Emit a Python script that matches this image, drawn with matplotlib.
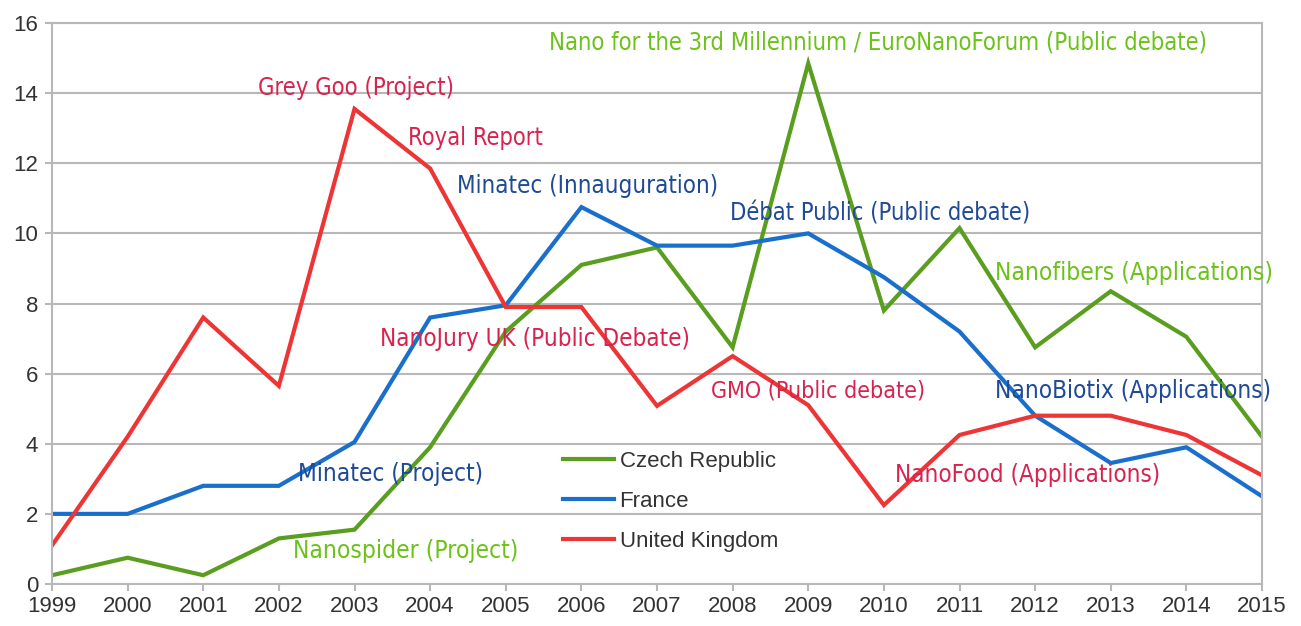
import matplotlib
matplotlib.use("Agg")
import matplotlib.pyplot as plt
from matplotlib import font_manager as fm

years = list(range(1999, 2016))
czech = [0.25, 0.75, 0.25, 1.3, 1.55, 3.9, 7.2, 9.1, 9.6, 6.75, 14.85, 7.8, 10.15, 6.75, 8.35, 7.05, 4.2]
france = [2.0, 2.0, 2.8, 2.8, 4.05, 7.6, 7.95, 10.75, 9.65, 9.65, 10.0, 8.75, 7.2, 4.8, 3.45, 3.9, 2.5]
uk = [1.1, 4.2, 7.6, 5.65, 13.55, 11.85, 7.9, 7.9, 5.08, 6.5, 5.1, 2.25, 4.25, 4.8, 4.8, 4.25, 3.1]
series_names = ["Czech Republic", "France", "United Kingdom"]
yticks = [0, 2, 4, 6, 8, 10, 12, 14, 16]

ann_texts = [
    "Grey Goo (Project)", "Royal Report", "Minatec (Innauguration)",
    "Nano for the 3rd Millennium / EuroNanoForum (Public debate)",
    "Débat Public (Public debate)", "Nanofibers (Applications)",
    "NanoJury UK (Public Debate)", "GMO (Public debate)",
    "NanoBiotix (Applications)", "Minatec (Project)",
    "NanoFood (Applications)", "Nanospider (Project)",
]
ann_x = [2001.72, 2003.71, 2004.36, 2005.57, 2007.97, 2011.47,
         2003.34, 2007.72, 2011.47, 2002.25, 2010.15, 2002.19]
ann_y = [14.15, 12.72, 11.35, 15.43, 10.58, 8.87,
         6.99, 5.5, 5.5, 3.14, 3.11, 0.94]
ann_series = ["uk", "uk", "fr", "cz", "fr", "cz", "uk", "uk", "fr", "fr", "uk", "cz"]
ann_width_px = [197, 135, 261, 663, 302, 277, 310, 215, 277, 185, 265, 225]

line_colors = {"cz": "#5a9e20", "fr": "#1a6fcc", "uk": "#ee3535"}
text_colors = {"cz": "#6cc21a", "fr": "#1f4a96", "uk": "#d9234f"}

# pick a condensed font if available
cond_prop = None
for fam, stretch in [("Liberation Sans Narrow", "normal"), ("DejaVu Sans", "condensed"),
                     ("Roboto Condensed", "normal"), ("Open Sans Condensed", "normal")]:
    try:
        p = fm.FontProperties(family=fam, stretch=stretch)
        f = fm.findfont(p, fallback_to_default=False)
        if ("Narrow" in f or "Condensed" in f or "condensed" in f.lower()):
            cond_prop = (fam, stretch)
            break
    except Exception:
        pass
if cond_prop is None:
    cond_prop = ("DejaVu Sans", "condensed")

fig = plt.figure(figsize=(13.01, 6.26), dpi=100)
ax = fig.add_axes([52 / 1301, 42 / 626, (1262 - 52) / 1301, (584 - 23) / 626])

ax.plot(years, czech, color=line_colors["cz"], lw=3, label=series_names[0], solid_joinstyle="miter")
ax.plot(years, france, color=line_colors["fr"], lw=3, label=series_names[1], solid_joinstyle="miter")
ax.plot(years, uk, color=line_colors["uk"], lw=3, label=series_names[2], solid_joinstyle="miter")

ax.set_xlim(1999, 2015)
ax.set_ylim(0, 16)
ax.set_xticks(years)
ax.set_yticks(yticks)
ax.grid(axis="y", color="#b8b8b8", lw=1.5)
ax.set_axisbelow(True)
for s in ax.spines.values():
    s.set_color("#b8b8b8")
    s.set_linewidth(1.5)
ax.tick_params(axis="both", colors="#b8b8b8", length=5, width=1.5, labelcolor="#333333",
               labelsize=16)
for lab in ax.get_xticklabels() + ax.get_yticklabels():
    lab.set_family("Liberation Sans")
ax.tick_params(axis="x", pad=4)
ax.tick_params(axis="y", pad=5)

fig.canvas.draw()
renderer = fig.canvas.get_renderer()
for t, x, y, s, w in zip(ann_texts, ann_x, ann_y, ann_series, ann_width_px):
    txt = ax.text(x, y, t, color=text_colors[s], fontsize=22, family=cond_prop[0],
                  fontstretch=cond_prop[1], ha="left", va="center", zorder=5)
    bb = txt.get_window_extent(renderer)
    txt.set_fontsize(22 * w / bb.width)

leg = ax.legend(loc="upper left", bbox_to_anchor=((554 - 52) / 1210, (584 - 442) / 561),
                frameon=False, prop={"family": "Liberation Sans", "size": 16},
                handlelength=2.3, handletextpad=0.25, labelspacing=0.85, borderaxespad=0)
for t in leg.get_texts():
    t.set_color("#333333")

fig.savefig("out.png", dpi=100, facecolor="white")
